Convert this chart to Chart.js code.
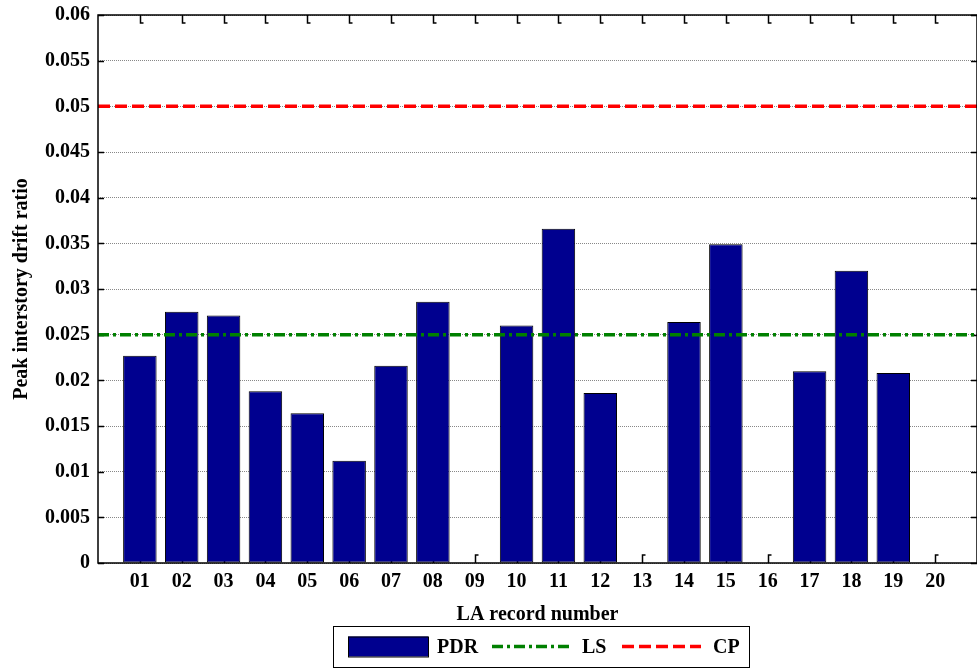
<!DOCTYPE html>
<html lang="en">
<head>
    <meta charset="UTF-8">
    <title>Peak interstory drift ratio</title>
    <style>
        body { margin: 0; background: #fff; }
    </style>
</head>
<body>
    <canvas id="myChart" width="977" height="669"></canvas>
    <script src="https://cdn.jsdelivr.net/npm/chart.js"></script>
    <script>
        // record labels on the x axis
        const records = ['01', '02', '03', '04', '05', '06', '07', '08', '09', '10',
                         '11', '12', '13', '14', '15', '16', '17', '18', '19', '20'];
        // peak interstory drift ratio per record
        const pdr = [0.0227, 0.0275, 0.0271, 0.0188, 0.0164, 0.0112, 0.0216, 0.0286, 0, 0.0260,
                     0.0366, 0.0186, 0, 0.0264, 0.0349, 0, 0.0210, 0.0320, 0.0208, 0];
        // performance limits
        const lsLimit = 0.025;
        const cpLimit = 0.05;
        const xRange = [0, 21];
        const yTicks = ['0', '0.005', '0.01', '0.015', '0.02', '0.025', '0.03',
                        '0.035', '0.04', '0.045', '0.05', '0.055', '0.06'];

        const serif = "'Liberation Serif', 'Times New Roman', serif";
        const navy = 'rgb(0,0,143)';

        // inward tick marks + frame, drawn like the original axes box
        const axesBox = {
            id: 'axesBox',
            beforeDatasetsDraw(chart) {
                const { ctx, chartArea: a, scales } = chart;
                ctx.save();
                ctx.strokeStyle = '#000';
                ctx.lineWidth = 1.5;
                ctx.beginPath();
                records.forEach((r, i) => {
                    const x = Math.round(scales.x.getPixelForValue(i + 1)) + 0.5;
                    ctx.moveTo(x, a.top); ctx.lineTo(x, a.top + 8); ctx.lineTo(x + 3, a.top + 8);
                    ctx.moveTo(x, a.bottom); ctx.lineTo(x, a.bottom - 8); ctx.lineTo(x + 3, a.bottom - 8);
                });
                yTicks.forEach(t => {
                    const y = Math.round(scales.y.getPixelForValue(+t)) + 0.5;
                    ctx.moveTo(a.left, y); ctx.lineTo(a.left + 6, y);
                    ctx.moveTo(a.right, y); ctx.lineTo(a.right - 6, y);
                });
                ctx.stroke();
                ctx.restore();
            },
            afterDraw(chart) {
                const { ctx, chartArea: a } = chart;
                ctx.save();
                ctx.strokeStyle = '#000';
                ctx.lineWidth = 1.5;
                ctx.strokeRect(a.left, a.top, a.right - a.left, a.bottom - a.top);

                // legend box
                const ds = chart.data.datasets;
                const bx = 333, by = 626, bw = 416, bh = 41;
                ctx.lineWidth = 1;
                ctx.fillStyle = '#fff';
                ctx.fillRect(bx, by, bw, bh);
                ctx.strokeRect(bx + 0.5, by + 0.5, bw, bh);
                const cy = by + bh / 2;
                ctx.font = 'bold 20px ' + serif;
                ctx.textBaseline = 'middle';
                ctx.textAlign = 'left';

                const pdrSet = ds.find(d => d.label === 'PDR');
                ctx.fillStyle = pdrSet.backgroundColor;
                ctx.fillRect(348, cy - 10, 80, 20);
                ctx.strokeStyle = '#000';
                ctx.strokeRect(348.5, cy - 9.5, 80, 20);
                ctx.fillStyle = '#000';
                ctx.fillText(pdrSet.label, 437, cy + 1);

                const items = [
                    { set: ds.find(d => d.label === 'LS'), x0: 492, x1: 572, tx: 582 },
                    { set: ds.find(d => d.label === 'CP'), x0: 622, x1: 701, tx: 713 }
                ];
                items.forEach(it => {
                    ctx.strokeStyle = it.set.borderColor;
                    ctx.lineWidth = it.set.borderWidth;
                    ctx.setLineDash(it.set.borderDash);
                    ctx.beginPath();
                    ctx.moveTo(it.x0, cy); ctx.lineTo(it.x1, cy);
                    ctx.stroke();
                    ctx.setLineDash([]);
                    ctx.fillStyle = '#000';
                    ctx.fillText(it.set.label, it.tx, cy + 1);
                });
                ctx.restore();
            }
        };

        const ctx = document.getElementById('myChart').getContext('2d');
        new Chart(ctx, {
            type: 'bar',
            data: {
                datasets: [
                    {
                        type: 'line',
                        label: 'CP',
                        data: xRange.map(x => ({ x: x, y: cpLimit })),
                        borderColor: '#ff0000',
                        borderWidth: 3.5,
                        borderDash: [12, 5],
                        pointRadius: 0,
                        order: 0
                    },
                    {
                        type: 'line',
                        label: 'LS',
                        data: xRange.map(x => ({ x: x, y: lsLimit })),
                        borderColor: '#008000',
                        borderWidth: 3.5,
                        borderDash: [11, 4, 3, 4],
                        pointRadius: 0,
                        order: 1
                    },
                    {
                        label: 'PDR',
                        data: pdr.map((v, i) => ({ x: i + 1, y: v })),
                        backgroundColor: navy,
                        borderColor: '#000',
                        borderWidth: 1,
                        borderSkipped: false,
                        categoryPercentage: 0.8,
                        barPercentage: 1,
                        order: 2
                    }
                ]
            },
            options: {
                responsive: false,
                animation: false,
                layout: { padding: { top: 15, right: 0, left: 0, bottom: 0 } },
                plugins: {
                    legend: { display: false },
                    tooltip: { enabled: false }
                },
                scales: {
                    x: {
                        type: 'linear',
                        offset: false,
                        min: xRange[0],
                        max: xRange[1],
                        grid: {
                            display: true, drawOnChartArea: false, offset: false,
                            drawTicks: true, tickLength: 7, tickColor: 'rgba(0,0,0,0)'
                        },
                        border: { display: false },
                        ticks: {
                            stepSize: 1,
                            autoSkip: false,
                            maxRotation: 0,
                            padding: 0,
                            color: '#000',
                            font: { family: serif, size: 20, weight: 'bold' },
                            callback: v => records[v - 1] || ''
                        },
                        title: {
                            display: true,
                            text: 'LA record number',
                            color: '#000',
                            font: { family: serif, size: 20, weight: 'bold' },
                            padding: { top: 8, bottom: 42 }
                        },
                        afterFit: s => { s.height = 106; }
                    },
                    y: {
                        min: 0,
                        max: 0.06,
                        grid: {
                            color: '#888', lineWidth: 1,
                            drawTicks: true, tickLength: 8, tickColor: 'rgba(0,0,0,0)'
                        },
                        border: { display: false, dash: [1, 1] },
                        ticks: {
                            stepSize: 0.005,
                            padding: 0,
                            color: '#000',
                            font: { family: serif, size: 20, weight: 'bold' },
                            callback: (v, i) => yTicks[i]
                        },
                        title: {
                            display: true,
                            text: 'Peak interstory drift ratio',
                            color: '#000',
                            font: { family: serif, size: 20, weight: 'bold' },
                            padding: { top: 10, bottom: 0 }
                        },
                        afterFit: s => { s.width = 98; }
                    }
                }
            },
            plugins: [axesBox]
        });
    </script>
</body>
</html>
